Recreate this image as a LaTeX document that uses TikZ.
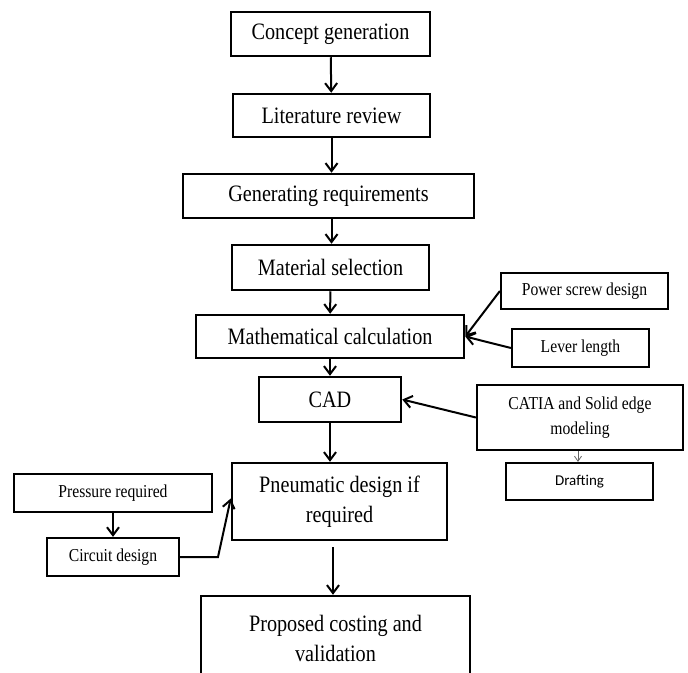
\documentclass[tikz,border=0pt]{standalone}
\usepackage{fontspec}
\setmainfont{Liberation Serif}[FakeStretch=0.86]
\newfontfamily\carl{Carlito}
\usetikzlibrary{arrows.meta}
\begin{document}
\begin{tikzpicture}[x=1pt,y=-1pt,
  bigbox/.style={draw=black,line width=2.5pt,inner sep=0pt,align=center,font=\fontsize{23.5}{30}\selectfont},
  smallbox/.style={draw=black,line width=2.2pt,inner sep=0pt,align=center,font=\fontsize{18.2}{25}\selectfont},
  flow/.style={line width=2pt,-{Straight Barb[length=8pt,width=12pt]}},
  thinflow/.style={line width=0.8pt,draw=black!60,-{Straight Barb[length=5pt,width=7pt]}}]
\useasboundingbox[fill=white] (0,0) rectangle (688,672);
% main column
\node[bigbox,minimum width=199pt,minimum height=44pt] (concept) at (330.5,34) {Concept generation};
\node[bigbox,minimum width=197pt,minimum height=43pt] (lit) at (331.5,115.5) {Literature review};
\node[bigbox,minimum width=291pt,minimum height=44pt] (genreq) at (328.5,196) {Generating requirements};
\node[bigbox,minimum width=197pt,minimum height=45pt] (material) at (330.5,267.5) {Material selection};
\node[bigbox,minimum width=268pt,minimum height=43pt] (math) at (330,336.5) {Mathematical calculation};
\node[bigbox,minimum width=142pt,minimum height=45pt] (cad) at (330,399.5) {CAD};
\node[bigbox,minimum width=215pt,minimum height=77pt] (pneu) at (339.5,501.5) {Pneumatic design if\\required};
\node[bigbox,minimum width=269pt,minimum height=84pt] (prop) at (335.5,638) {Proposed costing and\\validation};
% side boxes
\node[smallbox,minimum width=167pt,minimum height=36pt] (power) at (584.5,291) {Power screw design};
\node[smallbox,minimum width=137pt,minimum height=38pt] (lever) at (580.5,348) {Lever length};
\node[smallbox,minimum width=206pt,minimum height=65pt] (catia) at (580,417.5) {CATIA and Solid edge\\modeling};
\node[smallbox,minimum width=147pt,minimum height=37pt,font=\carl\fontsize{15}{18}\selectfont] (draft) at (579.5,481.5) {Drafting};
\node[smallbox,minimum width=198pt,minimum height=38pt] (press) at (113,493) {Pressure required};
\node[smallbox,minimum width=132pt,minimum height=38pt] (circ) at (113,557) {Circuit design};
% connectors
\draw[flow] (concept) -- (lit);
\draw[flow] (lit) -- (genreq.north -| lit);
\draw[flow] (genreq.south -| lit) -- (material.north -| lit);
\draw[flow] (material) -- (math);
\draw[flow] (math) -- (cad);
\draw[flow] (cad) -- (cad |- pneu.north);
\draw[flow,shorten <=6pt] (pneu.south -| 333,0) -- (prop.north -| 333,0);
\draw[flow] (power.west) -- (math.east);
\draw[flow] (lever.west) -- (math.east);
\draw[flow] (catia.west) -- (cad.east);
\draw[thinflow] (catia.south -| 578,0) -- (draft.north -| 578,0);
\draw[flow] (press) -- (circ);
\coordinate (bend) at (218,557);
\draw[flow] (circ.east) -- (bend) -- ([yshift=3pt]pneu.west);
\end{tikzpicture}
\end{document}
